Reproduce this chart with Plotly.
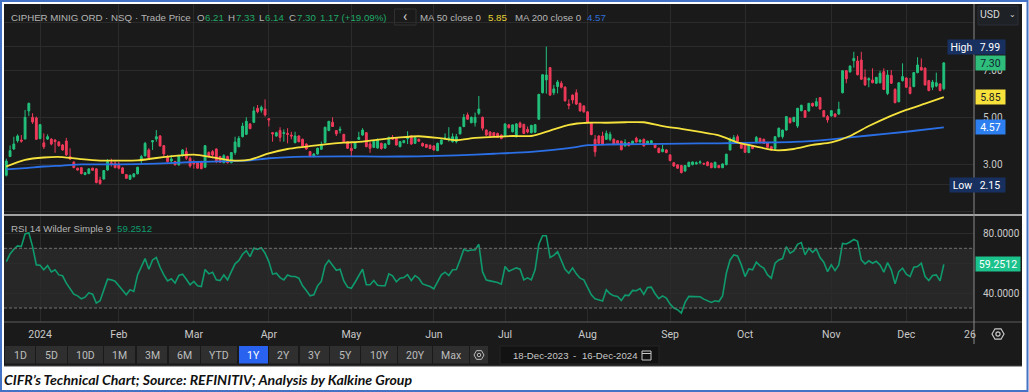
import pandas as pd
import plotly.graph_objects as go

W, H = 1029, 392
HOLIDAYS = ["2023-12-25", "2024-01-01", "2024-01-15", "2024-02-19", "2024-03-29", "2024-05-27",
            "2024-06-19", "2024-07-04", "2024-09-02", "2024-11-28"]
dates = [d for d in pd.bdate_range("2023-12-18", "2024-12-16") if d.strftime("%Y-%m-%d") not in HOLIDAYS]

opens = [2.55,3.34,3.66,4.01,4.04,4.08,5.27,5.00,4.97,4.10,3.92,4.08,4.08,4.04,3.96,3.83,4.00,3.34,3.10,2.85,
2.87,2.58,2.62,2.85,2.82,2.35,2.39,2.77,3.08,3.06,3.03,2.86,2.58,2.38,2.49,2.61,3.24,3.37,3.62,3.96,
4.08,4.21,3.80,3.30,3.15,3.13,2.99,3.38,3.55,3.27,3.11,3.11,3.13,2.89,3.52,3.55,3.66,3.34,3.08,3.34,
3.08,3.51,3.76,4.18,4.28,4.72,4.79,5.38,5.30,5.35,4.94,4.35,4.21,4.44,4.32,4.32,4.25,3.93,4.21,4.07,
3.87,3.55,3.34,3.45,3.65,3.93,4.44,4.79,4.44,4.45,4.28,3.97,3.69,3.69,4.07,4.25,4.35,3.87,3.73,3.70,
3.90,3.70,3.86,4.15,4.13,3.76,3.93,4.10,4.21,3.90,4.07,3.90,3.85,3.82,3.79,3.59,3.87,4.10,4.07,3.97,
3.97,4.30,4.61,5.10,4.77,4.77,5.17,5.00,4.46,4.38,4.35,4.32,4.25,4.21,4.68,4.39,4.18,4.76,4.70,4.49,
4.35,4.37,4.92,6.04,6.58,7.10,6.04,6.30,6.44,6.27,5.56,5.94,6.04,5.59,5.48,5.23,4.76,4.07,4.21,4.21,
4.07,4.07,4.07,4.01,3.99,3.79,3.93,3.87,4.11,3.96,4.07,3.86,3.87,3.87,3.69,3.55,3.62,3.41,3.08,2.99,
2.96,2.73,2.92,3.00,3.03,3.08,3.05,3.11,3.06,2.87,2.96,2.87,3.00,3.62,3.90,4.18,3.93,3.87,3.51,3.80,
3.93,4.11,4.07,3.93,3.76,3.68,4.18,4.18,4.46,4.96,4.82,4.63,5.28,5.28,5.27,5.59,5.48,5.83,5.28,5.03,
5.06,5.14,5.14,6.04,6.97,6.92,7.39,7.38,7.42,6.69,6.58,6.58,6.44,6.46,6.93,6.01,6.77,6.18,5.66,6.55,
6.66,6.27,6.30,6.89,7.11,7.08,6.55,6.27,6.32,6.41,6.21]
highs = [3.25,3.81,4.18,4.28,4.25,5.31,5.62,5.17,5.03,4.72,4.32,4.28,4.11,4.07,3.99,3.87,4.13,3.69,3.15,2.87,
2.90,2.68,2.84,2.87,2.85,2.49,2.77,3.23,3.25,3.20,3.11,2.90,2.60,2.57,2.63,2.91,3.41,3.96,3.69,4.04,
4.46,4.25,3.83,3.41,3.41,3.16,3.41,3.66,3.72,3.34,3.20,3.13,3.16,3.83,3.55,3.62,3.69,3.37,3.44,3.38,
3.53,4.18,4.21,4.77,5.00,4.75,5.45,5.52,5.50,5.76,4.97,4.38,4.39,4.58,4.49,4.54,4.39,4.39,4.24,4.10,
3.90,3.58,3.48,3.72,3.97,4.60,4.85,5.00,4.46,4.61,4.30,4.00,3.90,3.96,4.39,4.54,4.38,3.97,4.01,4.10,
3.93,3.90,4.18,4.25,4.16,4.00,4.04,4.41,4.24,4.16,4.10,3.93,3.88,3.85,3.82,3.93,4.06,4.32,4.58,4.32,
4.30,4.60,5.14,5.20,5.03,5.20,5.90,5.03,4.49,4.41,4.38,4.35,4.28,4.75,4.72,4.70,4.75,4.82,4.73,4.61,
4.68,4.72,5.99,6.82,7.99,7.13,6.37,6.58,6.54,6.32,5.76,5.97,6.18,5.62,5.51,5.26,4.79,4.25,4.24,4.39,
4.44,4.39,4.11,4.04,4.01,4.07,3.96,4.01,4.18,4.07,4.10,4.01,4.04,3.90,3.72,3.83,3.65,3.44,3.11,3.01,
2.99,2.98,3.12,3.13,3.13,3.18,3.08,3.14,3.09,3.12,2.99,3.05,3.46,4.15,4.25,4.27,3.96,3.90,3.85,3.83,
4.21,4.14,4.10,3.96,3.79,4.20,4.56,4.48,5.05,4.99,5.02,5.40,5.53,5.31,5.61,5.62,5.82,5.86,5.31,5.10,
5.30,5.17,5.66,6.99,7.00,7.19,7.77,7.59,7.77,7.03,6.69,7.07,6.71,6.97,7.07,7.00,7.00,6.23,6.48,7.28,
6.69,6.66,6.91,7.54,7.49,7.11,6.58,6.58,6.89,6.44,7.33]
lows = [2.50,3.34,3.62,3.93,3.93,4.08,5.06,4.72,4.04,4.07,3.66,4.04,3.82,3.50,3.76,3.59,3.37,3.20,2.85,2.75,
2.59,2.55,2.60,2.74,2.21,2.15,2.37,2.75,2.92,2.85,2.80,2.61,2.40,2.35,2.45,2.59,3.03,3.34,3.27,3.62,
3.97,3.76,3.34,3.08,3.06,2.97,2.96,3.34,3.20,2.87,2.83,2.83,2.80,2.85,3.31,3.27,3.06,3.08,3.06,3.05,
3.06,3.41,3.73,4.15,4.25,4.50,4.75,5.17,5.20,5.03,4.61,3.97,4.18,3.97,3.97,3.90,4.07,3.90,3.94,3.76,
3.63,3.31,3.31,3.42,3.62,3.90,4.41,4.59,4.21,4.32,3.94,3.66,3.34,3.66,4.04,4.22,3.73,3.50,3.70,3.68,
3.63,3.66,3.83,4.04,3.80,3.73,3.90,3.87,3.84,3.87,3.96,3.76,3.70,3.65,3.59,3.57,3.84,4.04,3.97,3.93,
3.90,4.27,4.58,4.89,4.75,4.61,5.10,4.44,4.22,4.18,4.18,4.13,4.07,4.18,4.53,4.36,4.15,4.55,4.29,4.32,
4.32,4.34,4.89,6.01,6.00,5.90,5.94,6.01,6.22,5.66,5.34,5.58,5.52,5.24,5.20,4.77,4.24,3.34,3.87,3.82,
4.04,3.99,3.82,3.87,3.60,3.76,3.77,3.84,3.93,3.93,3.76,3.83,3.84,3.69,3.48,3.52,3.48,3.14,2.91,2.82,
2.63,2.70,2.89,2.97,3.00,3.02,2.98,2.93,2.85,2.85,2.85,2.85,2.97,3.60,3.87,3.97,3.66,3.49,3.48,3.65,
3.90,3.90,3.87,3.70,3.59,3.60,4.15,4.10,4.43,4.74,4.79,4.55,5.25,4.97,5.24,5.45,5.45,5.32,5.00,4.77,
5.03,5.00,5.10,6.01,6.44,6.89,7.10,6.77,6.58,6.33,6.27,6.44,6.41,6.43,6.15,5.94,6.41,5.59,5.63,6.51,
6.24,5.97,6.27,6.86,6.97,6.34,6.10,6.15,6.27,6.10,6.14]
closes = [3.15,3.59,3.87,4.21,3.99,5.00,5.59,4.80,4.07,4.69,3.75,4.18,3.87,3.97,3.80,3.62,3.41,3.23,2.87,2.77,
2.62,2.66,2.82,2.76,2.24,2.20,2.75,3.13,3.03,2.87,2.85,2.63,2.42,2.55,2.61,2.89,3.34,3.90,3.30,4.01,
4.18,3.79,3.45,3.13,3.24,2.99,3.39,3.62,3.27,2.94,3.03,2.85,2.83,3.80,3.34,3.41,3.15,3.10,3.38,3.08,
3.51,3.96,4.11,4.63,4.83,4.52,5.27,5.24,5.42,5.10,4.89,4.30,4.35,4.15,4.35,4.28,4.21,4.21,3.97,3.79,
3.66,3.34,3.45,3.69,3.83,4.58,4.83,4.61,4.30,4.49,3.97,3.69,3.59,3.94,4.15,4.46,3.76,3.69,3.99,4.07,
3.68,3.88,4.15,4.07,3.83,3.97,4.01,4.14,3.87,4.14,3.99,3.79,3.73,3.68,3.62,3.90,4.04,4.13,4.13,4.18,
4.18,4.58,5.00,4.92,5.00,5.00,5.35,4.54,4.25,4.21,4.21,4.15,4.10,4.72,4.56,4.68,4.72,4.58,4.32,4.38,
4.66,4.69,5.97,6.80,6.79,5.94,6.20,6.49,6.27,5.70,5.51,5.73,5.56,5.27,5.23,4.80,4.27,3.54,3.90,3.87,
4.32,4.28,3.87,3.90,3.63,3.93,3.80,3.99,3.96,4.04,3.79,3.99,4.01,3.72,3.51,3.65,3.51,3.17,2.94,2.85,
2.66,2.96,3.10,3.11,3.08,3.11,3.03,2.96,2.87,3.10,2.87,3.03,3.44,4.04,4.14,3.99,3.69,3.52,3.83,3.68,
4.15,3.93,3.90,3.73,3.62,4.18,4.54,4.46,5.03,4.77,5.00,5.38,5.51,5.00,5.59,5.48,5.66,5.35,5.03,4.89,
5.28,5.03,5.34,6.97,6.63,7.17,7.49,6.80,6.61,6.37,6.63,6.46,6.69,6.86,6.18,6.79,6.44,5.62,6.46,6.72,
6.27,6.01,6.89,7.21,7.00,6.37,6.13,6.49,6.46,6.13,7.30]

ma50_at = list(range(0, 251, 5))
ma50 = [2.92,3.20,3.30,3.32,3.23,3.17,3.17,3.18,3.28,3.37,3.42,3.31,3.18,3.21,3.48,3.66,3.76,3.86,3.93,3.97,
4.07,4.15,4.20,4.13,4.03,4.13,4.17,4.21,4.21,4.44,4.68,4.77,4.77,4.79,4.79,4.63,4.51,4.38,4.24,3.94,
3.76,3.61,3.66,3.83,3.94,4.21,4.63,5.00,5.31,5.58,5.85]
ma200_at = [0,5,10,15,20,30,40,50,60,65,70,80,90,100,110,120,130,140,150,155,160,170,180,190,200,210,220,230,240,250]
ma200 = [2.80,2.85,2.92,2.96,3.01,3.01,3.04,3.11,3.15,3.18,3.27,3.34,3.35,3.34,3.35,3.39,3.46,3.54,3.70,3.82,
3.85,3.87,3.89,3.90,3.93,3.96,4.07,4.23,4.39,4.57]

rsi = [61.1,66.2,69.3,71.6,71.1,79.6,80.4,71.1,58.9,58.7,55.6,58.4,54.2,55.6,52.2,51.6,46.7,43.3,39.3,38.2,
36.2,37.3,40.2,39.3,33.3,34.9,42.2,49.3,48.9,48.0,44.9,41.8,38.9,42.2,41.1,52.2,57.8,63.1,56.0,62.2,
63.8,57.3,52.2,48.2,49.6,46.7,51.8,52.7,49.3,45.6,47.8,44.9,44.4,55.8,52.9,54.0,48.9,48.4,52.2,48.9,
54.4,59.6,61.8,66.0,68.4,64.4,70.0,69.3,70.4,66.7,61.1,52.7,53.3,50.4,48.9,52.2,51.1,51.1,50.0,44.9,
41.8,38.2,38.9,44.9,47.8,58.4,62.0,58.9,55.3,56.0,48.2,44.0,43.3,47.3,51.6,56.0,45.6,45.6,48.4,45.3,
44.9,44.9,52.9,51.6,47.6,50.0,50.4,52.4,48.4,51.8,50.0,46.2,45.3,44.4,42.9,47.8,52.2,54.0,51.8,55.6,
55.8,62.2,69.3,68.2,68.9,68.9,72.7,54.2,48.7,48.2,47.8,47.1,46.0,57.8,54.7,56.0,56.9,
56.0,48.9,50.2,48.9,55.6,72.7,78.4,78.4,63.8,65.3,67.8,62.2,56.0,53.3,56.9,52.9,50.0,48.9,44.4,38.9,
36.2,35.6,34.7,42.2,39.6,38.2,37.8,35.1,38.7,38.4,41.8,41.6,43.1,39.1,43.8,44.0,39.6,36.4,38.2,36.7,
32.7,30.0,28.9,26.7,33.8,37.8,37.6,37.6,37.6,36.0,35.1,33.8,34.9,34.4,38.2,53.3,62.2,65.6,64.9,58.9,
51.1,56.2,55.6,60.7,58.2,56.7,52.2,50.0,60.0,62.2,63.1,71.1,66.7,68.2,72.7,73.8,65.6,70.0,67.3,69.6,
63.8,60.7,54.4,58.9,55.1,58.9,73.3,72.9,74.2,76.0,74.7,62.2,59.6,61.6,60.0,61.3,58.9,54.0,60.4,55.6,
46.2,54.4,56.7,52.7,51.1,57.3,57.8,60.0,51.1,48.4,51.8,52.2,48.2,59.2512]

n = len(dates)
assert all(len(s) == n for s in (opens, highs, lows, closes)), (n, len(opens), len(highs), len(lows), len(closes))
assert len(rsi) == n, (n, len(rsi))

xs = list(range(n))
month_idx, month_txt = [], []
seen = set()
for i, d in enumerate(dates):
    key = (d.year, d.month)
    if i >= 9 and key not in seen:
        seen.add(key)
        month_idx.append(i)
        month_txt.append("2024" if d.month == 1 else d.strftime("%b"))

PANEL = "#1a1a1a"
GRID = "#2b2b2b"
TXT = "#c9c9c9"
GREEN = "#22c17c"
RED = "#f03a5a"
FONT = "Roboto"
HEAD = "Liberation Sans"
VAL = "#1fa968"
LBL = "#b5b5b5"

def px(x): return x / W
def py(y): return 1 - y / H

fig = go.Figure()
fig.add_trace(go.Candlestick(x=xs, open=opens, high=highs, low=lows, close=closes, xaxis="x", yaxis="y",
    increasing=dict(line=dict(color=GREEN, width=1), fillcolor=GREEN),
    decreasing=dict(line=dict(color=RED, width=1), fillcolor=RED), whiskerwidth=0, showlegend=False))
fig.add_trace(go.Scatter(x=ma200_at, y=ma200, mode="lines", line=dict(color="#2b6fe6", width=1.8, shape="spline", smoothing=0.6), xaxis="x", yaxis="y", showlegend=False))
fig.add_trace(go.Scatter(x=ma50_at, y=ma50, mode="lines", line=dict(color="#f5e23c", width=1.8, shape="spline", smoothing=0.6), xaxis="x", yaxis="y", showlegend=False))
fig.add_trace(go.Scatter(x=xs, y=rsi, mode="lines", line=dict(color="#0f9a6e", width=1.6), xaxis="x2", yaxis="y2", showlegend=False))

shapes, ann = [], []

def rect(x0, y0, x1, y1, fill, line=None, lw=1, layer="below"):
    shapes.append(dict(type="rect", xref="paper", yref="paper", x0=px(x0), x1=px(x1), y0=py(y1), y1=py(y0),
                       fillcolor=fill, line=dict(color=line or fill, width=lw if line else 0), layer=layer))

def hline(x0, x1, y, color, lw=1, layer="above", dash=None):
    shapes.append(dict(type="line", xref="paper", yref="paper", x0=px(x0), x1=px(x1), y0=py(y), y1=py(y),
                       line=dict(color=color, width=lw, dash=dash or "solid"), layer=layer))

def vline(x, y0, y1, color, lw=1, layer="above"):
    shapes.append(dict(type="line", xref="paper", yref="paper", x0=px(x), x1=px(x), y0=py(y0), y1=py(y1),
                       line=dict(color=color, width=lw), layer=layer))

def text(x, y, s, color=TXT, size=10.5, anchor="left", family=FONT, **kw):
    ann.append(dict(xref="paper", yref="paper", x=px(x), y=py(y), text=s, showarrow=False, xanchor=anchor,
                    yanchor="middle", font=dict(color=color, size=size, family=family), borderpad=0, borderwidth=0, **kw))

def flag(xa, xb, yval, s, bg, color, yref):
    ann.append(dict(xref="paper", yref=yref, x=px(xa), y=yval, text=s, showarrow=False, xanchor="left", yanchor="middle",
                    width=xb - xa, height=14, align="center", bgcolor=bg, borderpad=0,
                    font=dict(color=color, size=10.5, family=FONT)))

# page frame and panels
rect(1, 1, 1027.5, 391, "#ffffff", "#4472c4", 2)
rect(4, 4, 1022, 366, PANEL)
rect(4, 248.3, 974, 308, "#272727")
hline(4, 1022, 215, "#d0d0d0", 1.5)
hline(4, 1022, 322, "#5c5c5c", 1.2)
hline(4, 1022, 366, "#444444", 1)
vline(974, 4, 344, "#8a8a8a", 1)
hline(4, 974, 248.3, "#707070", 1, dash="3px,2px")
hline(4, 974, 308, "#707070", 1, dash="3px,2px")

# legend lines
y0 = 17.5
hs = 9.7
text(11, y0, "CIPHER MINIG ORD", LBL, hs, family=HEAD)
text(105, y0, "·", LBL, hs, family=HEAD)
text(111, y0, "NSQ", LBL, hs, family=HEAD)
text(135, y0, "·", LBL, hs, family=HEAD)
text(141, y0, "Trade Price", LBL, hs, family=HEAD)
text(197, y0, "O", LBL, hs, family=HEAD); text(205, y0, "6.21", VAL, hs, family=HEAD)
text(228, y0, "H", LBL, hs, family=HEAD); text(236, y0, "7.33", VAL, hs, family=HEAD)
text(259, y0, "L", LBL, hs, family=HEAD); text(265, y0, "6.14", VAL, hs, family=HEAD)
text(289, y0, "C", LBL, hs, family=HEAD); text(297, y0, "7.30", VAL, hs, family=HEAD)
text(320, y0, "1.17 (+19.09%)", VAL, hs, family=HEAD)
rect(394.5, 9, 416, 25, "#1a1a1a", "#303030", 1)
text(405, 16.5, "‹", "#d0d0d0", 14, "center")
text(420, y0, "MA 50 close 0", LBL, hs, family=HEAD)
text(488, y0, "5.85", "#e6d234", hs, family=HEAD)
text(515, y0, "MA 200 close 0", LBL, hs, family=HEAD)
text(587, y0, "4.57", "#2f6fd8", hs, family=HEAD)
rect(978, 6, 1018, 25, "#1e2126", "#2a2e35", 1)
text(980, 15, "USD", "#d8d8d8", 10.5)
text(1012, 15, "⌄", "#d8d8d8", 8, "center")
text(11, 228.5, "RSI 14 Wilder Simple 9", LBL, hs, family=HEAD)
text(117, 228.5, "59.2512", "#0f9a6e", hs, family=HEAD)

# flags
flag(947, 974, 7.99, "High", "#17305f", "#ffffff", "y")
flag(974, 1004, 7.99, "7.99", "#17305f", "#ffffff", "y")
flag(975, 1004, closes[-1], "7.30", "#2ebd7a", "#123", "y")
flag(975, 1004, ma50[-1], "5.85", "#f7e23c", "#222", "y")
flag(975, 1004, ma200[-1], "4.57", "#2d7ff0", "#ffffff", "y")
flag(949, 974, 2.15, "Low", "#17305f", "#ffffff", "y")
flag(974, 1004, 2.15, "2.15", "#17305f", "#ffffff", "y")
flag(975, 1019, rsi[-1], "59.2512", "#1cc28c", "#ffffff", "y2")

ann.append(dict(xref="x2", yref="paper", x=257, y=py(334), text="26", showarrow=False, xanchor="center", yanchor="middle",
                font=dict(color=TXT, size=10.5, family=FONT)))

# period buttons
BUTTONS = ["1D","5D","10D","1M","3M","6M","YTD","1Y","2Y","3Y","5Y","10Y","20Y","Max"]
BTN_X = [(5,35),(36,67),(68,103),(104,135),(137,167),(169,200),(201,237),(239,268),(269,298),(300,329),(330,360),(361,397),(398,432),(433,469)]
for b, (a, c) in zip(BUTTONS, BTN_X):
    active = b == "1Y"
    rect(a, 346, c, 363.5, "#2a62f0" if active else "#2f2f2f")
    text((a + c) / 2, 355.5, b, "#ffffff" if active else "#bdbdbd", 10.5, "center")
rect(470, 346, 488, 363.5, "#2f2f2f")

def gear(cx, cy, r, color, lw=1):
    k = r * 0.87
    path = (f"M {px(cx-r)} {py(cy)} L {px(cx-r/2)} {py(cy-k)} L {px(cx+r/2)} {py(cy-k)} L {px(cx+r)} {py(cy)} "
            f"L {px(cx+r/2)} {py(cy+k)} L {px(cx-r/2)} {py(cy+k)} Z")
    shapes.append(dict(type="path", xref="paper", yref="paper", path=path, line=dict(color=color, width=lw), layer="above"))
    rr = r * 0.35
    shapes.append(dict(type="circle", xref="paper", yref="paper", x0=px(cx-rr), x1=px(cx+rr), y0=py(cy+rr), y1=py(cy-rr),
                       line=dict(color=color, width=lw), layer="above"))

gear(479, 355, 5, "#bdbdbd")
gear(998, 334, 6, "#c9c9c9", 1.2)

rect(500, 346, 659, 364, "#121212", "#242424", 1)
text(513, 355.5, "18-Dec-2023", "#c9c9c9", 9.6, family=HEAD)
text(573, 355.5, "-", "#c9c9c9", 9.6, family=HEAD)
text(582, 355.5, "16-Dec-2024", "#c9c9c9", 9.6, family=HEAD)
rect(642, 351, 651, 360, "rgba(0,0,0,0)", "#c9c9c9", 1, "above")
hline(642, 651, 353.5, "#c9c9c9", 1)

# caption
text(4, 379.5, "<b><i>CIFR’s Technical Chart; Source: REFINITIV; Analysis by Kalkine Group</i></b>", "#111111", 14.1, "left", "Lato")

# axes
x_left, x_right = -0.62, 258.05
ax = dict(range=[x_left, x_right], domain=[px(4), px(974)], tickmode="array", tickvals=month_idx, showgrid=True,
          gridcolor=GRID, gridwidth=1, zeroline=False, showline=False)
fig.update_layout(
    width=W, height=H, margin=dict(l=0, r=0, t=0, b=0), autosize=False,
    paper_bgcolor="#ffffff", plot_bgcolor="rgba(0,0,0,0)", showlegend=False, dragmode=False,
    xaxis=dict(**ax, anchor="y", ticktext=[""] * len(month_idx), ticks="", rangeslider=dict(visible=False), showticklabels=False),
    xaxis2=dict(**ax, anchor="y2", ticktext=month_txt, ticks="outside", ticklen=2, tickcolor=PANEL,
                tickfont=dict(color=TXT, size=10.5, family=FONT)),
    yaxis=dict(domain=[py(215), py(4)], range=[0.87, 9.79], side="right", anchor="x", tickmode="array",
               tickvals=[1, 2.14, 3, 5, 7, 8, 9], ticktext=["", "", "3.00", "5.00", "7.00", "", ""],
               gridcolor=GRID, zeroline=False, ticks="outside", ticklen=6, tickcolor="rgba(0,0,0,0)",
               tickfont=dict(color=TXT, size=10, family=FONT)),
    yaxis2=dict(domain=[py(322), py(216)], range=[20.7, 91.6], side="right", anchor="x2", tickmode="array",
                tickvals=[40, 60, 80], ticktext=["40.0000", "", "80.0000"], gridcolor=GRID, zeroline=False,
                ticks="outside", ticklen=6, tickcolor="rgba(0,0,0,0)", tickfont=dict(color=TXT, size=10, family=FONT)),
    shapes=shapes, annotations=ann,
)
fig.write_html("out.html", config=dict(displayModeBar=False),
               post_script="document.body.style.margin='0';document.documentElement.style.overflow='hidden';")
